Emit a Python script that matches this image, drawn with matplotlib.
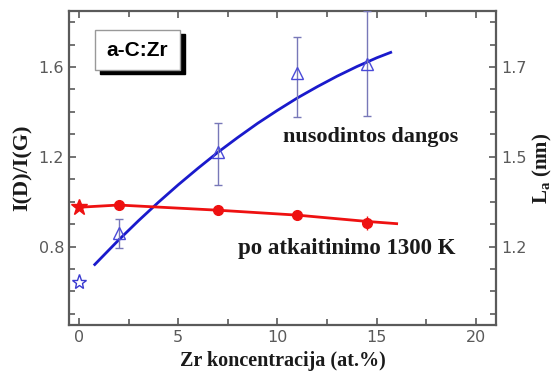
import numpy as np
import matplotlib.pyplot as plt
from matplotlib.ticker import MultipleLocator, FixedLocator
from matplotlib.patches import Rectangle

# deposited films (open triangles) and their fit
zr_dep = [2, 7, 11, 14.5]
id_ig_dep = [0.86, 1.22, 1.575, 1.615]
err_dep_lo = [0.065, 0.145, 0.20, 0.235]
err_dep_hi = [0.065, 0.13, 0.16, 0.235]
fit_dep_x = [0.8, 2, 3, 4, 5, 6, 7, 8, 9, 10, 11, 12, 13, 14, 15, 15.7]
fit_dep_y = [0.72, 0.829, 0.915, 0.997, 1.075, 1.149, 1.22, 1.286, 1.349,
             1.407, 1.462, 1.512, 1.559, 1.602, 1.641, 1.665]

# annealed at 1300 K (filled circles) and the line through them
zr_ann = [2, 7, 11, 14.5]
id_ig_ann = [0.985, 0.962, 0.94, 0.905]
err_ann = [0.0, 0.0, 0.0, 0.03]
fit_ann_x = [0, 2, 7, 11, 14.5, 16]
fit_ann_y = [0.975, 0.985, 0.962, 0.94, 0.912, 0.902]

# pure a-C reference (stars)
star_x = [0]
star_dep_y = [0.64]
star_ann_y = [0.975]

left_ticks = [0.8, 1.2, 1.6]
right_labels = ['1.2', '1.5', '1.7']

BLUE = '#1a1acc'
RED = '#ee1111'
GRAY = '#5a5a5a'

fig = plt.figure(figsize=(5.56, 3.75), dpi=100)
ax = fig.add_axes([0.124, 0.133, 0.768, 0.838])

ax.plot(fit_dep_x, fit_dep_y, color=BLUE, lw=2.0, zorder=3)
ax.errorbar(zr_dep, id_ig_dep, yerr=[err_dep_lo, err_dep_hi], fmt='^',
            mfc='none', mec='#4a4ad8', ms=8.5, mew=1.0,
            ecolor='#7878b8', elinewidth=1.0, capsize=3, zorder=4)
ax.plot(star_x, star_dep_y, '*', mfc='none', mec='#3a3ad0', ms=11, mew=1.0)

ax.plot(fit_ann_x, fit_ann_y, color=RED, lw=2.0, zorder=3)
ax.errorbar(zr_ann, id_ig_ann, yerr=err_ann, fmt='o', color=RED, ms=7,
            ecolor=RED, elinewidth=1.0, capsize=0, zorder=4)
ax.plot(star_x, star_ann_y, '*', color=RED, ms=12, zorder=4)

ax.set_xlim(-0.5, 21)
ax.set_ylim(0.45, 1.85)
ax.xaxis.set_major_locator(FixedLocator([0, 5, 10, 15, 20]))
ax.xaxis.set_minor_locator(MultipleLocator(2.5))
ax.yaxis.set_major_locator(FixedLocator(left_ticks))
ax.yaxis.set_minor_locator(MultipleLocator(0.1))
ax.tick_params(which='both', direction='in', top=True, right=True,
               color=GRAY, labelcolor=GRAY, labelsize=11.5, width=1.2)
ax.tick_params(which='major', length=5)
ax.tick_params(which='minor', length=4)
for s in ax.spines.values():
    s.set_color(GRAY)
    s.set_linewidth(1.6)

ax2 = ax.twinx()
ax2.set_ylim(ax.get_ylim())
ax2.yaxis.set_major_locator(FixedLocator(left_ticks))
ax2.set_yticklabels(right_labels)
ax2.yaxis.set_minor_locator(MultipleLocator(0.1))
ax2.tick_params(which='both', direction='in', color=GRAY, labelcolor=GRAY,
                labelsize=11.5, width=1.2)
ax2.tick_params(which='major', length=5)
ax2.tick_params(which='minor', length=4)
for s in ax2.spines.values():
    s.set_visible(False)

serif = dict(family='Liberation Serif', weight='bold', color='#1a1a1a')
ax.set_xlabel('Zr koncentracija (at.%)', fontsize=14.5, labelpad=4, **serif)
ax.set_ylabel('I(D)/I(G)', fontsize=16, labelpad=4, **serif)
ax2.set_ylabel('L$_\\mathregular{a}$ (nm)', fontsize=15, labelpad=3, **serif)

ax.text(10.3, 1.29, 'nusodintos dangos', fontsize=16, ha='left', va='center', **serif)
ax.text(8.0, 0.79, 'po atkaitinimo 1300 K', fontsize=16.5, ha='left', va='center', **serif)

# label box with drop shadow
ax.add_patch(Rectangle((0.072, 0.798), 0.199, 0.127, transform=ax.transAxes,
                       fc='black', ec='black', zorder=5))
ax.add_patch(Rectangle((0.061, 0.812), 0.199, 0.127, transform=ax.transAxes,
                       fc='white', ec='#999999', lw=1.0, zorder=6))
ax.text(0.16, 0.874, 'a-C:Zr', transform=ax.transAxes, fontsize=15,
        family='Liberation Sans', weight='bold', ha='center', va='center', zorder=7)

plt.savefig('out.png', dpi=100)
